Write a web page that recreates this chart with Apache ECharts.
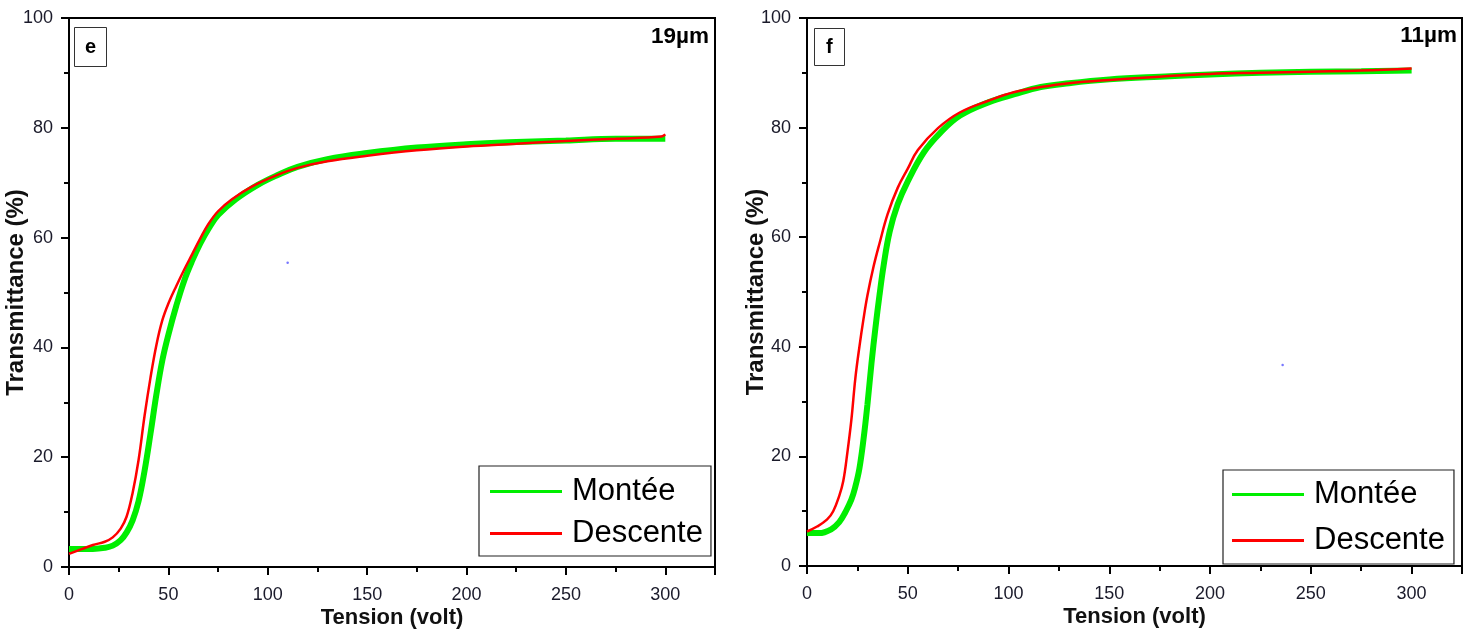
<!DOCTYPE html>
<html>
<head>
<meta charset="utf-8">
<title>Transmittance vs Tension</title>
<script src="https://cdn.jsdelivr.net/npm/echarts@6/dist/echarts.min.js"></script>
<style>
  html, body { margin: 0; padding: 0; background: #fff; }
  #chart { width: 1474px; height: 637px; }
</style>
</head>
<body>
<div id="chart"></div>
<script>
// Panel e (19 µm): rising (Montée) and falling (Descente) voltage sweeps
const eMonteeX = [0, 6, 12, 18, 22, 26, 29, 32, 35, 38, 41, 44, 47, 50, 54, 58, 62, 66, 70, 75, 84, 95, 105, 115, 130, 150, 175, 200, 225, 250, 275, 300];
const eMonteeY = [3.3, 3.3, 3.3, 3.5, 3.9, 4.9, 6.3, 8.5, 12.0, 17.5, 24.3, 31.5, 37.7, 42.3, 47.6, 52.2, 55.8, 58.9, 61.5, 64.1, 67.0, 69.6, 71.4, 72.9, 74.3, 75.4, 76.4, 77.0, 77.4, 77.7, 78.0, 78.0];
const eDescenteX = [0, 6, 12, 18, 22, 26, 29, 32, 35, 38, 41, 44, 47, 50, 54, 58, 62, 66, 70, 75, 82, 92, 104, 115, 130, 150, 175, 200, 225, 250, 275, 298, 300];
const eDescenteY = [2.4, 3.2, 4.0, 4.6, 5.4, 7.0, 9.2, 13.5, 19.5, 27.5, 34.5, 40.5, 45.0, 48.0, 51.2, 54.2, 57.0, 59.8, 62.4, 64.8, 67.0, 69.3, 71.3, 72.7, 73.9, 74.9, 75.9, 76.6, 77.1, 77.6, 78.0, 78.4, 78.8];
const eStray = [[110, 55.4]];

// Panel f (11 µm)
const fMonteeX = [0, 6, 12, 16, 19, 22, 24, 26, 28, 30, 32, 34, 36, 38, 41, 45, 50, 58, 66, 76, 90, 103, 116, 130, 150, 175, 200, 225, 250, 275, 300];
const fMonteeY = [6.0, 6.0, 6.7, 8.0, 9.8, 12.1, 14.5, 17.8, 23.0, 29.5, 37.0, 43.6, 49.5, 54.8, 61.0, 66.0, 70.2, 75.5, 79.0, 82.2, 84.6, 86.1, 87.4, 88.1, 88.8, 89.3, 89.7, 90.0, 90.2, 90.3, 90.4];
const fDescenteX = [0, 5, 10, 13, 16, 18, 20, 22, 24, 26, 28, 30, 33, 36, 40, 45, 50, 55, 65, 76, 90, 103, 116, 130, 150, 175, 200, 225, 250, 275, 300];
const fDescenteY = [6.3, 7.2, 8.5, 10.0, 12.8, 15.5, 20.6, 26.6, 34.3, 40.0, 45.0, 49.4, 54.6, 58.9, 64.2, 69.0, 72.5, 75.9, 79.9, 82.8, 84.9, 86.5, 87.4, 88.1, 88.7, 89.3, 89.8, 90.0, 90.2, 90.4, 90.8];
const fStray = [[236, 36.7]];

// Axis ticks
const xMajorTicks = [0, 50, 100, 150, 200, 250, 300];
const xMinorTicks = [25, 75, 125, 175, 225, 275];
const xEndTick = 325;
const panelLetters = ['e', 'f'];
const thicknessLabels = ['19µm', '11µm'];
const seriesNames = ['Montée', 'Descente'];

const pairs = (xs, ys) => xs.map((x, i) => [x, ys[i]]);

const FONT = 'Liberation Sans, Arial, sans-serif';
const GREEN = '#00ee00';
const RED = '#ff0000';

const grids = [
  { left: 69, top: 18, width: 646, height: 549 },
  { left: 807, top: 18, width: 655, height: 548 }
];

function majorX(gi) {
  return {
    gridIndex: gi, type: 'value', min: 0, max: xEndTick, interval: 50,
    name: 'Tension (volt)', nameLocation: 'middle', nameGap: 40, nameMoveOverlap: false,
    nameTextStyle: { fontFamily: FONT, fontWeight: 'bold', fontSize: 22, color: '#111' },
    axisLine: { onZero: false, lineStyle: { color: '#000', width: 2 } },
    axisTick: { show: true, inside: false, length: 8, lineStyle: { color: '#000', width: 2 },
      customValues: xMajorTicks.concat([xEndTick]) },
    axisLabel: { customValues: xMajorTicks, margin: 19, fontFamily: FONT, fontSize: 18, color: '#1a1a2a' },
    splitLine: { show: false }
  };
}
function minorX(gi) {
  return {
    gridIndex: gi, type: 'value', min: 0, max: xEndTick, position: 'bottom',
    axisLine: { show: false },
    axisTick: { show: true, inside: false, length: 5, lineStyle: { color: '#000', width: 2 },
      customValues: xMinorTicks },
    axisLabel: { show: false },
    splitLine: { show: false }
  };
}
function yAx(gi, gap) {
  return {
    gridIndex: gi, type: 'value', min: 0, max: 100, interval: 20,
    name: 'Transmittance (%)', nameLocation: 'middle', nameGap: gap, nameMoveOverlap: false,
    nameTextStyle: { fontFamily: FONT, fontWeight: 'bold', fontSize: 24, color: '#111' },
    axisLine: { onZero: false, lineStyle: { color: '#000', width: 2 } },
    axisTick: { show: true, inside: false, length: 8, lineStyle: { color: '#000', width: 2 } },
    minorTick: { show: true, splitNumber: 2, length: 5, lineStyle: { color: '#000', width: 2 } },
    axisLabel: { margin: 16, fontFamily: FONT, fontSize: 18, color: '#1a1a2a' },
    splitLine: { show: false }, minorSplitLine: { show: false }
  };
}

function lineSeries(name, xi, yi, data, color, width) {
  return {
    name, type: 'line', xAxisIndex: xi, yAxisIndex: yi, data,
    smooth: 0.4, symbol: 'none', animation: false,
    lineStyle: { color, width }, itemStyle: { color }
  };
}

function legendAt(left, top, gap, pad) {
  return {
    left, top, orient: 'vertical',
    data: seriesNames.map((n, i) => ({ name: n, icon: 'rect', itemStyle: { color: i ? RED : GREEN } })),
    borderColor: '#222', borderWidth: 1.2, borderRadius: 0, padding: pad,
    itemWidth: 72, itemHeight: 3, itemGap: gap,
    textStyle: { fontFamily: FONT, fontSize: 31, color: '#000', padding: [0, 0, 0, 5] },
    selectedMode: false
  };
}

function letterBox(text, left, top, padV, padH) {
  return {
    text, left, top,
    textStyle: { fontFamily: FONT, fontWeight: 'bold', fontSize: 20, color: '#000' },
    borderColor: '#333', borderWidth: 1, padding: [padV, padH]
  };
}

const chart = echarts.init(document.getElementById('chart'), null, { renderer: 'canvas' });
chart.setOption({
  backgroundColor: '#fff',
  animation: false,
  grid: grids.map(g => Object.assign({
    show: true, borderColor: '#000', borderWidth: 2, backgroundColor: 'transparent',
    containLabel: false, outerBoundsMode: 'none'
  }, g)),
  title: [
    letterBox(panelLetters[0], 74, 27, 10, 11),
    letterBox(panelLetters[1], 814, 28, 9, 12),
    { text: thicknessLabels[0], right: 1474 - 709, top: 25, padding: 0,
      textStyle: { fontFamily: FONT, fontWeight: 'bold', fontSize: 22.5, color: '#000' } },
    { text: thicknessLabels[1], right: 1474 - 1457, top: 24, padding: 0,
      textStyle: { fontFamily: FONT, fontWeight: 'bold', fontSize: 22.5, color: '#000' } }
  ],
  legend: [
    legendAt(479, 466, 11, [10, 8, 7, 11]),
    legendAt(1223, 470, 15, [9, 9, 8, 9])
  ],
  xAxis: [majorX(0), minorX(0), majorX(1), minorX(1)],
  yAxis: [yAx(0, 41), yAx(1, 39)],
  series: [
    lineSeries(seriesNames[0], 0, 0, pairs(eMonteeX, eMonteeY), GREEN, 6),
    lineSeries(seriesNames[1], 0, 0, pairs(eDescenteX, eDescenteY), RED, 2.5),
    { type: 'scatter', xAxisIndex: 0, yAxisIndex: 0, data: eStray, symbolSize: 2.5, itemStyle: { color: '#5555ff' }, silent: true },
    lineSeries(seriesNames[0], 2, 1, pairs(fMonteeX, fMonteeY), GREEN, 6),
    lineSeries(seriesNames[1], 2, 1, pairs(fDescenteX, fDescenteY), RED, 2.5),
    { type: 'scatter', xAxisIndex: 2, yAxisIndex: 1, data: fStray, symbolSize: 2.5, itemStyle: { color: '#5555ff' }, silent: true }
  ]
});
</script>
</body>
</html>
